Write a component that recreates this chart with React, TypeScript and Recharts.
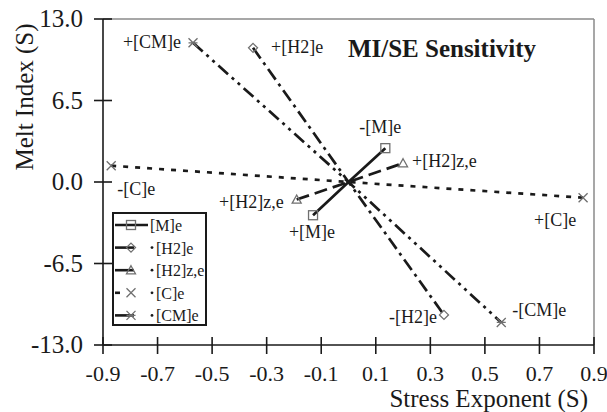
import { ScatterChart, Scatter, XAxis, YAxis, ReferenceLine, Legend } from 'recharts'

// each factor is swept from its "+" end through the origin to its "-" end
const seriesNames = ['[M]e', '[H2]e', '[H2]z,e', '[C]e', '[CM]e']
const plusX = [-0.13, -0.35, -0.19, 0.86, -0.57]
const plusY = [-2.65, 10.7, -1.4, -1.25, 11.1]
const minusX = [0.135, 0.35, 0.2, -0.87, 0.56]
const minusY = [2.7, -10.6, 1.5, 1.3, -11.2]
const plusLabels = ['+[M]e', '+[H2]e', '+[H2]z,e', '+[C]e', '+[CM]e']
const minusLabels = ['-[M]e', '-[H2]e', '+[H2]z,e', '-[C]e', '-[CM]e']
const xTicks = [-0.9, -0.7, -0.5, -0.3, -0.1, 0.1, 0.3, 0.5, 0.7, 0.9]
const yTicks = [-13, -6.5, 0, 6.5, 13]

const FONT = '"Liberation Serif", "DejaVu Serif", serif'
const INK = '#1a1a1a'
const MARK = '#6f6f6f'

const dashes = ['', '13 5 3 5', '13 6', '5 7', '13 5 3 5 3 5']
const legendDashes = ['', '', '', '5 20', '']
const markers = ['square', 'diamond', 'triangle', 'cross', 'star']

// label placement next to each end: [dx, dy, anchor]
const plusPlace: [number, number, string][] = [
  [-1, 23, 'middle'],
  [18, 5, 'start'],
  [-13, 8, 'end'],
  [-28, 28, 'middle'],
  [-12, 5, 'end'],
]
const minusPlace: [number, number, string][] = [
  [-5, -15, 'middle'],
  [-7, 8, 'end'],
  [9, 4, 'start'],
  [6, 29, 'start'],
  [11, -6, 'start'],
]

function Marker({ kind, x, y }: { kind: string; x: number; y: number }) {
  const s = 4.5
  const common = { fill: 'none', stroke: MARK, strokeWidth: 1.3 }
  switch (kind) {
    case 'square':
      return <rect x={x - s} y={y - s} width={2 * s} height={2 * s} {...common} />
    case 'diamond':
      return <path d={`M${x} ${y - s}L${x + s} ${y}L${x} ${y + s}L${x - s} ${y}Z`} {...common} />
    case 'triangle':
      return <path d={`M${x} ${y - s}L${x + s} ${y + s * 0.8}L${x - s} ${y + s * 0.8}Z`} {...common} />
    case 'cross':
      return <path d={`M${x - s} ${y - s}L${x + s} ${y + s}M${x + s} ${y - s}L${x - s} ${y + s}`} {...common} />
    default:
      return (
        <path
          d={`M${x - s} ${y - s}L${x + s} ${y + s}M${x + s} ${y - s}L${x - s} ${y + s}M${x - s} ${y}L${x + s} ${y}`}
          {...common}
        />
      )
  }
}

const seriesData = seriesNames.map((name, i) => [
  { x: plusX[i], y: plusY[i], label: plusLabels[i], end: 'plus', idx: i },
  { x: 0, y: 0, label: '', end: 'origin', idx: i },
  { x: minusX[i], y: minusY[i], label: minusLabels[i], end: 'minus', idx: i },
])

function EndPoint(props: any) {
  const { cx, cy, payload } = props
  if (!payload || payload.end === 'origin') return <g />
  const i = payload.idx
  const [dx, dy, anchor] = payload.end === 'plus' ? plusPlace[i] : minusPlace[i]
  return (
    <g>
      <Marker kind={markers[i]} x={cx} y={cy} />
      <text x={cx + dx} y={cy + dy} textAnchor={anchor as any} fontSize={18} fontFamily={FONT} fill={INK}>
        {payload.label}
      </text>
    </g>
  )
}

function XTick(props: any) {
  const { x, y, payload } = props
  return (
    <g>
      <line x1={x} x2={x} y1={y - 8} y2={y + 9} stroke={INK} strokeWidth={1.6} />
      <text x={x} y={y + 36} textAnchor="middle" fontSize={22} fontFamily={FONT} fill={INK}>
        {Number(payload.value).toFixed(1)}
      </text>
    </g>
  )
}

function YTick(props: any) {
  const { x, y, payload } = props
  return (
    <g>
      <line x1={x - 9} x2={x + 9} y1={y} y2={y} stroke={INK} strokeWidth={1.6} />
      <text x={x - 20} y={y + 8} textAnchor="end" fontSize={25} fontFamily={FONT} fill={INK}>
        {Number(payload.value).toFixed(1)}
      </text>
    </g>
  )
}

function LegendBox() {
  return (
    <svg width={96} height={115} style={{ display: 'block' }}>
      <rect x={1} y={1} width={93} height={112} fill="#fff" stroke={INK} strokeWidth={2} />
      {seriesNames.map((name, i) => {
        const cy = 13 + i * 22.6
        const solid = dashes[i] === ''
        return (
          <g key={name}>
            <line
              x1={3}
              x2={solid ? 36 : 22}
              y1={cy}
              y2={cy}
              stroke={INK}
              strokeWidth={2.6}
              strokeDasharray={legendDashes[i] || undefined}
            />
            {!solid && <circle cx={40} cy={cy} r={1.4} fill={INK} />}
            <Marker kind={markers[i]} x={19} y={cy} />
            <text x={solid ? 38 : 44} y={cy + 6} fontSize={16} fontFamily={FONT} fill={INK}>
              {name}
            </text>
          </g>
        )
      })}
    </svg>
  )
}

export default function App() {
  return (
    <div style={{ position: 'absolute', left: 0, top: 0, background: '#fff', fontFamily: FONT }}>
      <ScatterChart width={607} height={412} margin={{ top: 19, right: 13, left: 0, bottom: 0 }}>
        <XAxis
          type="number"
          dataKey="x"
          domain={[-0.9, 0.9]}
          ticks={xTicks}
          height={67}
          tickSize={0}
          tickMargin={0}
          tickLine={false}
          tick={<XTick />}
          axisLine={{ stroke: INK, strokeWidth: 1.6 }}
          label={{
            content: ({ viewBox }: any) => (
              <text
                x={viewBox.x + viewBox.width - 6}
                y={viewBox.y + 62}
                textAnchor="end"
                fontSize={25}
                fontFamily={FONT}
                fill={INK}
              >
                Stress Exponent (S)
              </text>
            ),
          }}
        />
        <YAxis
          type="number"
          dataKey="y"
          domain={[-13, 13]}
          ticks={yTicks}
          width={103}
          tickSize={0}
          tickMargin={0}
          tickLine={false}
          tick={<YTick />}
          axisLine={{ stroke: INK, strokeWidth: 1.6 }}
          label={{
            content: ({ viewBox }: any) => (
              <text
                x={viewBox.x + 33}
                y={viewBox.y + 78}
                transform={`rotate(-90 ${viewBox.x + 33} ${viewBox.y + 78})`}
                textAnchor="middle"
                fontSize={25}
                fontFamily={FONT}
                fill={INK}
              >
                Melt Index (S)
              </text>
            ),
          }}
        />
        <ReferenceLine y={13} stroke="#8a8a8a" strokeWidth={1.5} />
        <ReferenceLine x={0.9} stroke="#8a8a8a" strokeWidth={1.5} />
        {seriesData.map((data, i) => (
          <Scatter
            key={seriesNames[i]}
            name={seriesNames[i]}
            data={data}
            fill={INK}
            line={{ stroke: INK, strokeWidth: 2.7, strokeDasharray: dashes[i] || undefined }}
            lineType="joint"
            shape={<EndPoint />}
            isAnimationActive={false}
          />
        ))}
        <Legend
          layout="horizontal"
          verticalAlign="middle"
          align="center"
          content={<LegendBox />}
          wrapperStyle={{ left: 112, top: 212, width: 96, height: 115 }}
        />
        <text x={442} y={57} textAnchor="middle" fontWeight="bold" fontSize={25} fontFamily={FONT} fill={INK}>
          MI/SE Sensitivity
        </text>
      </ScatterChart>
    </div>
  )
}
